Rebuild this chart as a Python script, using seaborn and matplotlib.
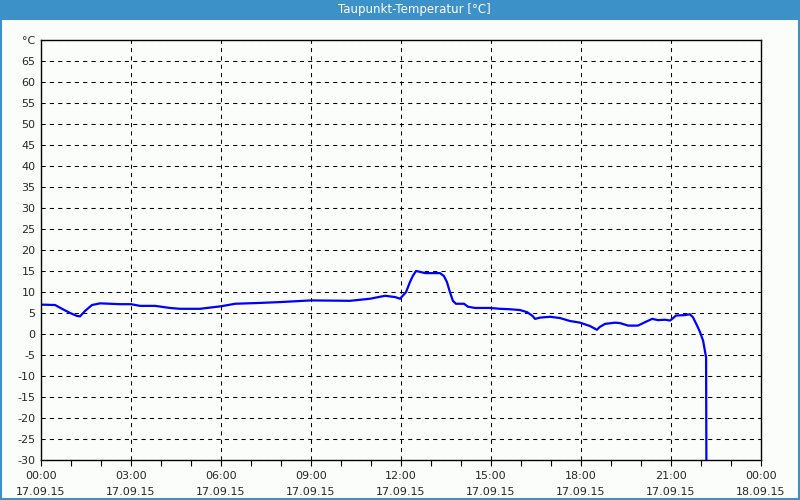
import matplotlib
matplotlib.use("Agg")
import matplotlib.pyplot as plt
import seaborn as sns
import pandas as pd
from matplotlib.patches import Rectangle

sns.set_style("white")
plt.rcParams['font.family'] = ['DejaVu Sans']

title = "Taupunkt-Temperatur [°C]"
hours = [0, 0.47, 0.7, 0.97, 1.2, 1.3, 1.47, 1.7, 1.97, 2.63, 3.0, 3.3, 3.8, 4.3, 4.63,
         5.3, 6.0, 6.47, 7.3, 7.97, 9.0, 10.3, 10.97, 11.47, 11.8, 11.97, 12.17, 12.3,
         12.4, 12.5, 12.63, 12.8, 13.3, 13.43, 13.53, 13.63, 13.73, 13.83, 14.1, 14.23,
         14.47, 14.97, 15.3, 15.63, 15.97, 16.2, 16.37, 16.47, 16.63, 16.97, 17.3, 17.63,
         17.97, 18.3, 18.53, 18.63, 18.8, 19.13, 19.3, 19.57, 19.9, 20.13, 20.37, 20.57,
         20.8, 20.97, 21.17, 21.47, 21.63, 21.73, 21.87, 21.97, 22.07, 22.13, 22.17, 22.18]
values = [7.0, 6.9, 6.0, 5.0, 4.3, 4.2, 5.5, 6.9, 7.3, 7.1, 7.1, 6.7, 6.7, 6.2, 6.0,
          6.0, 6.6, 7.2, 7.4, 7.6, 8.0, 7.9, 8.4, 9.1, 8.8, 8.4, 10.0, 12.4,
          13.9, 15.0, 14.8, 14.5, 14.5, 13.8, 12.4, 10.0, 7.9, 7.2, 7.2, 6.5,
          6.2, 6.2, 6.0, 5.9, 5.7, 5.2, 4.4, 3.6, 3.9, 4.1, 3.8, 3.1,
          2.7, 1.9, 1.0, 1.7, 2.4, 2.7, 2.6, 2.0, 2.0, 2.8, 3.6, 3.3,
          3.4, 3.2, 4.4, 4.5, 4.7, 4.0, 2.0, 0.4, -1.6, -4.0, -5.6, -31.0]

major_hours = [0, 3, 6, 9, 12, 15, 18, 21, 24]
major_labels = ["00:00\n17.09.15", "03:00\n17.09.15", "06:00\n17.09.15", "09:00\n17.09.15",
                "12:00\n17.09.15", "15:00\n17.09.15", "18:00\n17.09.15", "21:00\n17.09.15",
                "00:00\n18.09.15"]
y_ticks = list(range(-30, 75, 5))
y_labels = [str(v) for v in y_ticks[:-1]] + ["°C"]

bg = "#FBFDFB"
blue_bar = "#3D91C9"

fig = plt.figure(figsize=(8, 5), dpi=100, facecolor=bg)
# title bar
fig.patches.append(Rectangle((0, 1 - 20 / 500), 1, 20 / 500, transform=fig.transFigure,
                             facecolor=blue_bar, edgecolor="none", zorder=0))
# window border
fig.patches.append(Rectangle((0.6 / 800, 0.6 / 500), 798.8 / 800, 480 / 500, transform=fig.transFigure,
                             facecolor="none", edgecolor=blue_bar, linewidth=1.5, zorder=1))
fig.text(414 / 800, 1 - 10 / 500, title, color="white", ha="center", va="center", fontsize=8.5)

ax = fig.add_axes([41 / 800, 40 / 500, 720 / 800, 420 / 500])
ax.set_facecolor(bg)

df = pd.DataFrame({"hour": hours, "value": values})
sns.lineplot(data=df, x="hour", y="value", ax=ax, color="#0000FF", linewidth=1.6,
             sort=False, estimator=None)

ax.set_xlim(0, 24)
ax.set_ylim(-30, 70)
ax.set_xticks(major_hours)
ax.set_xticklabels(major_labels, fontsize=8, linespacing=1.75)
ax.set_xticks(list(range(0, 25)), minor=True)
ax.set_yticks(y_ticks)
ax.set_yticklabels(y_labels, fontsize=8)
ax.set_xlabel("")
ax.set_ylabel("")

ax.tick_params(axis="x", which="both", direction="out", length=4, width=0.8, color="black",
               bottom=True, pad=4)
ax.tick_params(axis="y", which="both", length=0, pad=4)

ax.grid(True, which="major", color="black", linestyle=(0, (4, 4)), linewidth=0.75)
for s in ax.spines.values():
    s.set_color("black")
    s.set_linewidth(1.0)
    s.set_visible(True)

fig.savefig("out.png", dpi=100, facecolor=bg)
